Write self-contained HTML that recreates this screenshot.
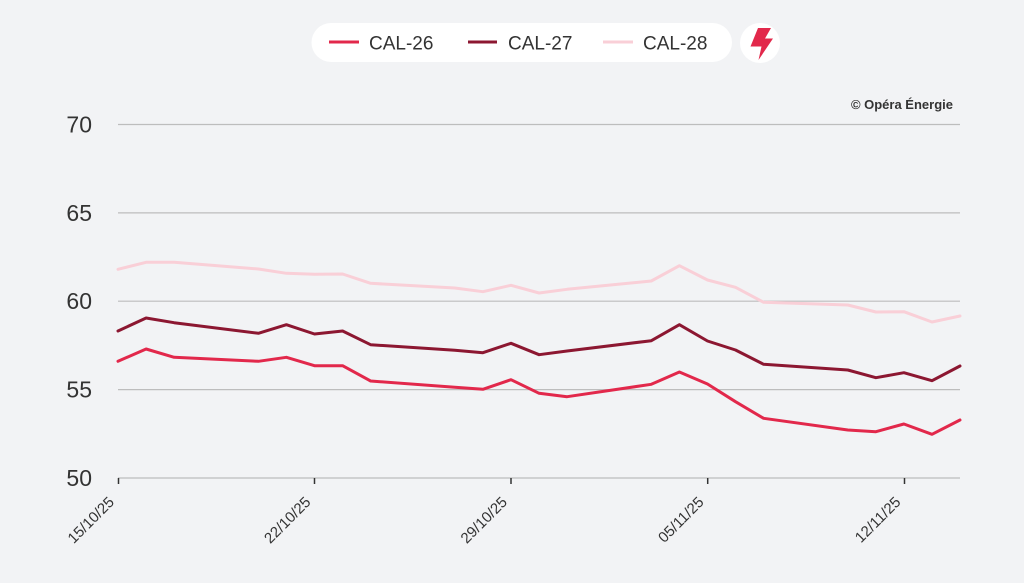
<!DOCTYPE html>
<html><head><meta charset="utf-8">
<style>
html,body{margin:0;padding:0;background:#f2f3f5;}
svg{display:block;font-family:"Liberation Sans","DejaVu Sans",sans-serif;}
</style></head>
<body>
<svg width="1024" height="583" viewBox="0 0 1024 583" xmlns="http://www.w3.org/2000/svg">
<rect x="0" y="0" width="1024" height="583" fill="#f2f3f5"/>
<!-- legend -->
<rect x="311.5" y="23" width="420.5" height="39" rx="19.5" ry="19.5" fill="#ffffff"/>
<line x1="329" y1="42" x2="359" y2="42" stroke="#e2284b" stroke-width="3"/>
<text x="369" y="49.3" font-size="19" fill="#333">CAL-26</text>
<line x1="468" y1="42" x2="497" y2="42" stroke="#8c1731" stroke-width="3"/>
<text x="508" y="49.3" font-size="19" fill="#333">CAL-27</text>
<line x1="603" y1="42" x2="633" y2="42" stroke="#f9cfd7" stroke-width="3"/>
<text x="643" y="49.3" font-size="19" fill="#333">CAL-28</text>
<circle cx="760" cy="43" r="20" fill="#ffffff"/>
<polygon points="758,28 771,28 765,38.5 773,38.5 758.5,60 761.5,46.5 750.5,46.5" fill="#e2284b"/>
<!-- copyright -->
<text x="953" y="109" font-size="13" font-weight="bold" fill="#333" text-anchor="end">© Opéra Énergie</text>
<!-- grid -->
<g stroke="#bdbdbd" stroke-width="1.2">
<line x1="118" y1="124.5" x2="960" y2="124.5"/>
<line x1="118" y1="212.9" x2="960" y2="212.9"/>
<line x1="118" y1="301.2" x2="960" y2="301.2"/>
<line x1="118" y1="389.6" x2="960" y2="389.6"/>
<line x1="118" y1="478" x2="960" y2="478"/>
</g>
<g fill="#333" font-size="23" text-anchor="end">
<text x="92" y="132.5">70</text>
<text x="92" y="220.9">65</text>
<text x="92" y="309.2">60</text>
<text x="92" y="397.6">55</text>
<text x="92" y="486">50</text>
</g>
<!-- ticks -->
<g stroke="#333" stroke-width="1.5">
<line x1="118.5" y1="478" x2="118.5" y2="484"/>
<line x1="314.5" y1="478" x2="314.5" y2="484"/>
<line x1="511" y1="478" x2="511" y2="484"/>
<line x1="707.7" y1="478" x2="707.7" y2="484"/>
<line x1="904.5" y1="478" x2="904.5" y2="484"/>
</g>
<g fill="#333" font-size="15" text-anchor="end">
<text transform="translate(115,503) rotate(-45)">15/10/25</text>
<text transform="translate(311.5,503) rotate(-45)">22/10/25</text>
<text transform="translate(508,503) rotate(-45)">29/10/25</text>
<text transform="translate(704.7,503) rotate(-45)">05/11/25</text>
<text transform="translate(901.5,503) rotate(-45)">12/11/25</text>
</g>
<!-- series -->
<g fill="none" stroke-width="3" stroke-linejoin="round" stroke-linecap="round">
<polyline stroke="#f9cfd7" points="118,269.3 146.1,262.3 174.1,262.3 258.4,269 286.4,273.3 314.5,274.3 342.6,274 370.6,283.3 454.8,288 482.9,291.7 511,285.3 539.1,293 567.1,289.3 651.3,281 679.4,265.7 707.5,280 735.5,287.3 763.6,302.3 847.8,305 875.9,312 903.9,311.7 932,322 960,316"/>
<polyline stroke="#8c1731" points="118,331 146.1,318 174.1,322.7 258.4,333.3 286.4,324.7 314.5,334 342.6,331 370.6,344.7 454.8,350.3 482.9,352.7 511,343.3 539.1,354.7 567.1,351 651.3,340.7 679.4,324.7 707.5,341 735.5,350 763.6,364.3 847.8,370 875.9,377.7 903.9,372.7 932,380.7 960,366"/>
<polyline stroke="#e2284b" points="118,361.3 146.1,349 174.1,357.3 258.4,361.3 286.4,357.3 314.5,365.7 342.6,365.7 370.6,381 454.8,387.3 482.9,389.3 511,379.7 539.1,393.3 567.1,396.7 651.3,384.3 679.4,372 707.5,384 735.5,401.7 763.6,418.3 847.8,430 875.9,431.7 903.9,424 932,434.3 960,420"/>
</g>
</svg>
</body></html>
